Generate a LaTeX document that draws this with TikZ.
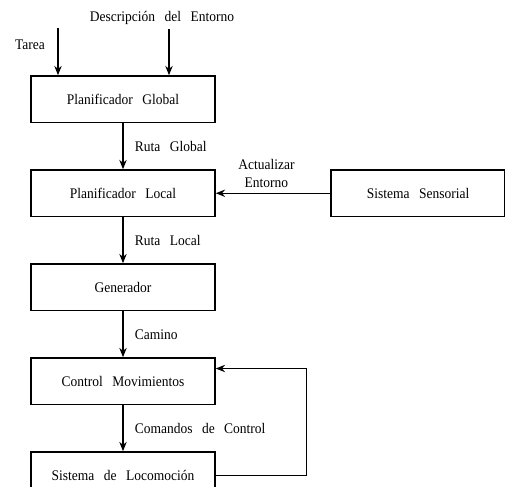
\documentclass[tikz,border=0pt]{standalone}
\usepackage{fontspec}
\setmainfont[WordSpace=2.8,FakeStretch=0.92]{Liberation Serif}
\usetikzlibrary{positioning,arrows.meta,calc}

\begin{document}
\begin{tikzpicture}[
                x=0.75pt,y=-0.75pt,
                node distance=34.5pt,
                font=\fontsize{11}{13.5}\selectfont,
                bloque/.style={draw,line width=1.1pt,minimum width=138pt,minimum height=34.9pt,inner sep=0pt},
                flecha/.style={line width=1.1pt,-{Stealth[length=7pt,width=5.5pt]}},
                etiq/.style={right,xshift=5pt}
            ]
                \useasboundingbox (0,0) rectangle (505,486);
                \node (glob) [bloque] at (123,99.25)  {Planificador Global};
                \node (loc)  [bloque,below=of glob]   {Planificador Local};
                \node (gen)  [bloque,below=of loc]    {Generador};
                \node (ctrl) [bloque,below=of gen]    {Control Movimientos};
                \node (loco) [bloque,below=of ctrl]   {Sistema de Locomoción};
                \node (sens) [bloque,minimum width=130.5pt,right=86pt of loc] {Sistema Sensorial};
                \node (tarea) at (30,45)  {Tarea};
                \node (desc)  at (162,18) {Descripción del Entorno};
                \coordinate (tin) at (58,28);
                \coordinate (din) at (169,29);
                \coordinate (fb)  at ($(ctrl.east)+(91,-12.75)$);
                \draw[flecha] (tin) -- (tin |- glob.north);
                \draw[flecha] (din) -- (din |- glob.north);
                \draw[flecha] (glob) -- (loc) node[etiq,midway] {Ruta Global};
                \draw[flecha] (sens) -- (loc) node[midway,above,align=center,xshift=-5pt] {Actualizar\\Entorno};
                \draw[flecha] (loc) -- (gen) node[etiq,midway] {Ruta Local};
                \draw[flecha] (gen) -- (ctrl) node[etiq,midway] {Camino};
                \draw[flecha] (ctrl) -- (loco) node[etiq,midway] {Comandos de Control};
                \draw[flecha] (loco.east) -| (fb) -- (fb -| ctrl.east);
            \end{tikzpicture}
\end{document}
